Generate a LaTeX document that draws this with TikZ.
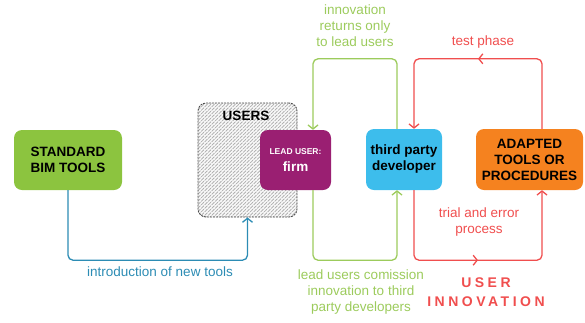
\documentclass[tikz,border=0pt]{standalone}
\usepackage{fontspec}
\setmainfont{Liberation Sans}
\usetikzlibrary{arrows.meta,patterns,decorations.markings}
\definecolor{boxgreen}{HTML}{8CC43F}
\definecolor{linegreen}{HTML}{9CCB5C}
\definecolor{lineblue}{HTML}{2C8CB4}
\definecolor{linered}{HTML}{F04E4E}
\definecolor{boxpurple}{HTML}{9A1F72}
\definecolor{boxcyan}{HTML}{3DBDEC}
\definecolor{boxorange}{HTML}{F5821F}
\pgfdeclarepatternformonly{myhatch}{\pgfpoint{-1pt}{-1pt}}{\pgfpoint{4pt}{4pt}}{\pgfpoint{3.5pt}{3.5pt}}{%
  \pgfsetlinewidth{0.7pt}%
  \pgfpathmoveto{\pgfpoint{-0.5pt}{-0.5pt}}%
  \pgfpathlineto{\pgfpoint{4pt}{4pt}}%
  \pgfusepath{stroke}}
\tikzset{
  box/.style={rounded corners=8pt, inner sep=0pt, align=center, font=\fontsize{13.5}{16}\selectfont\bfseries},
  conn/.style={line width=1.3pt, rounded corners=5pt, -{Straight Barb[length=4pt,width=10pt,line width=1.3pt]}},
  lab/.style={align=center, font=\fontsize{13.5}{16}\selectfont, inner sep=0pt},
  midarrow/.style={postaction={decorate, decoration={markings, mark=at position 0.5 with {\arrow{Straight Barb[length=4pt,width=10pt,line width=1.3pt]}}}}}
}
\begin{document}
\begin{tikzpicture}[x=1pt,y=-1pt]
\useasboundingbox (0,0) rectangle (585,322);
% boxes
\node[box, fill=boxgreen, minimum width=108pt, minimum height=60pt] (std) at (68,160) {STANDARD\\BIM TOOLS};
\node[box, draw=black!70, dash pattern=on 2pt off 1pt, line width=0.9pt, preaction={fill=gray!5}, pattern=myhatch, pattern color=gray!65, minimum width=99pt, minimum height=114pt] (users) at (247.5,160) {};
\node[box, inner sep=0pt] (userstitle) at (246,116) {USERS};
\node[box, fill=boxpurple, text=white, minimum width=71pt, minimum height=60pt] (lead) at (295.5,160) {{\fontsize{8.5}{10}\selectfont LEAD USER:}\\[1pt]firm};
\node[box, fill=boxcyan, minimum width=76pt, minimum height=61pt] (tpd) at (404,159.5) {third party\\developer};
\node[box, fill=boxorange, minimum width=107pt, minimum height=61pt] (adapt) at (529.5,159.5) {ADAPTED\\TOOLS OR\\PROCEDURES};
% connectors
\draw[conn, lineblue] (std.south) -- ++(0,70) -| (users.south);
\draw[conn, linegreen] ([xshift=-7pt]tpd.north) -- ++(0,-70) -| ([xshift=17.5pt]lead.north);
\draw[conn, linegreen] ([xshift=17.5pt]lead.south) -- ++(0,70) -| ([xshift=-7pt]tpd.south);
\draw[conn, linered, midarrow] ([xshift=12.5pt]adapt.north) -- ++(0,-70) -| ([xshift=10pt]tpd.north);
\draw[conn, linered, midarrow] ([xshift=10pt]tpd.south) -- ++(0,70) -| ([xshift=12.5pt]adapt.south);
% labels
\node[lab, text=lineblue] (l1) at (160,272) {introduction of new tools};
\node[lab, text=linegreen] (l2) at (355,26) {innovation\\returns only\\to lead users};
\node[lab, text=linegreen] (l3) at (361,292) {lead users comission\\innovation to third\\party developers};
\node[lab, text=linered] (l4) at (483,42) {test phase};
\node[lab, text=linered] (l5) at (479,222) {trial and error\\process};
\node[lab, text=linered, font=\fontsize{14}{19}\selectfont\bfseries\addfontfeature{LetterSpace=25}] (l6) at (486,292.5) {USER\\INNOVATION};
\end{tikzpicture}
\end{document}
